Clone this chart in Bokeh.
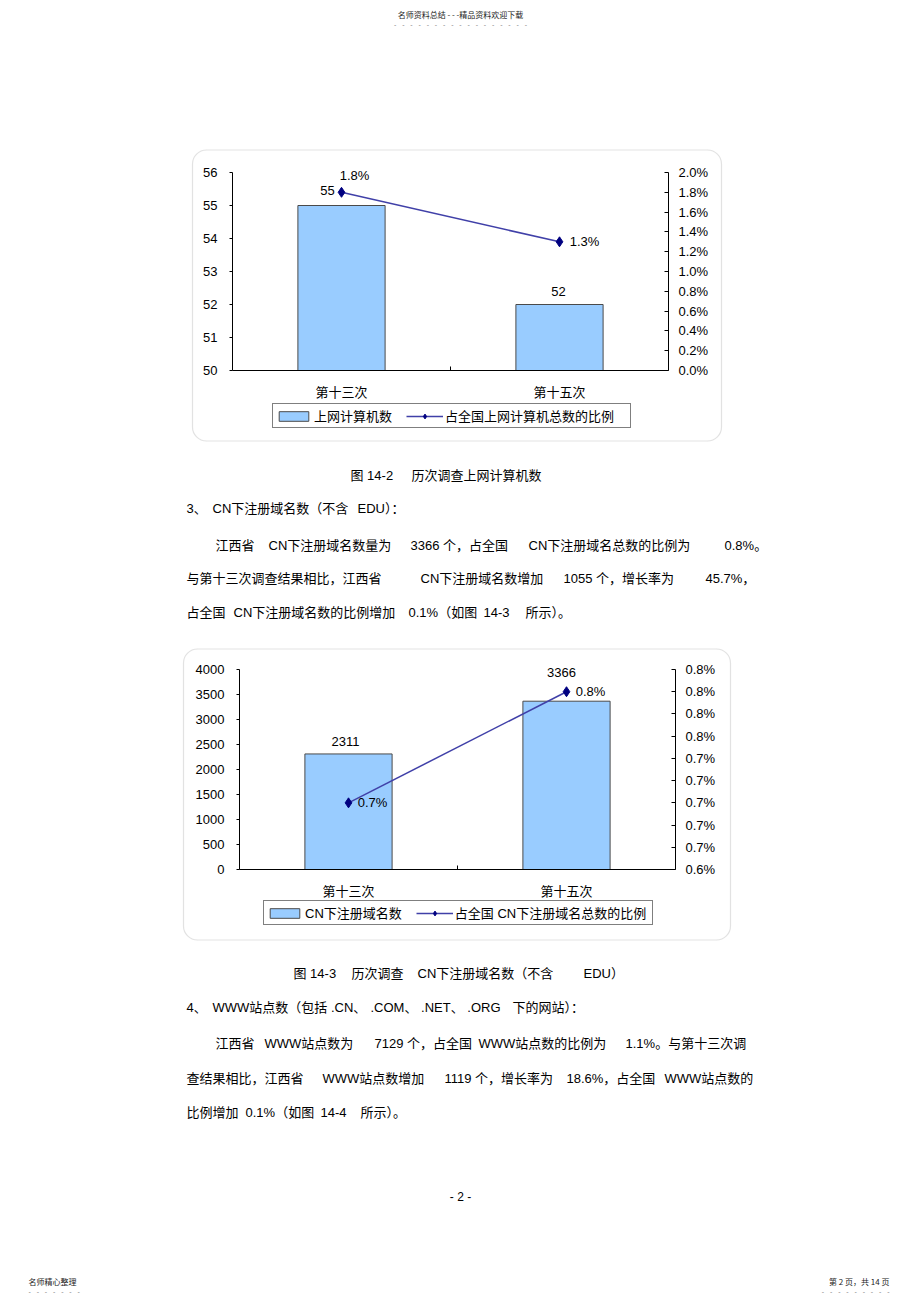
from bokeh.plotting import figure
from bokeh.models import (Range1d, LinearAxis, FixedTicker, PrintfTickFormatter,
                          Legend, LegendItem, ColumnDataSource, BoxAnnotation)
from bokeh.core.properties import value
from bokeh.embed import file_html
from bokeh.resources import INLINE

FONT = "Liberation Sans, Noto Sans CJK SC"
CJK = "Noto Sans CJK SC"

# ---------------- data: 图 14-2 ----------------
c1_categories = ["第十三次", "第十五次"]
c1_counts = [55, 52]
c1_share_pct = [1.8, 1.3]
c1_left_ticks = [50, 51, 52, 53, 54, 55, 56]
c1_right_ticks = [0.0, 0.2, 0.4, 0.6, 0.8, 1.0, 1.2, 1.4, 1.6, 1.8, 2.0]
c1_bar_name = "上网计算机数"
c1_line_name = "占全国上网计算机总数的比例"

# ---------------- data: 图 14-3 ----------------
c2_categories = ["第十三次", "第十五次"]
c2_counts = [2311, 3366]
c2_share_pct = [0.70, 0.80]
c2_left_ticks = [0, 500, 1000, 1500, 2000, 2500, 3000, 3500, 4000]
c2_right_ticks = [0.64, 0.66, 0.68, 0.70, 0.72, 0.74, 0.76, 0.78, 0.80, 0.82]
c2_bar_name = "CN下注册域名数"
c2_line_name = "占全国 CN下注册域名总数的比例"

W, H = 920, 1304

p = figure(width=W, height=H, x_range=Range1d(0, W), y_range=Range1d(H, 0),
           output_backend="svg", toolbar_location=None,
           x_axis_type=None, y_axis_type=None,
           min_border_left=0, min_border_right=0, min_border_top=0, min_border_bottom=0,
           outline_line_color=None, background_fill_color="white",
           border_fill_color="white")


def x_range_for(v_left, v_right, px_left, px_right):
    k = (v_right - v_left) / (px_right - px_left)
    start = v_left - px_left * k
    return Range1d(start, start + W * k)


def y_range_for(v_bot, v_top, py_bot, py_top):
    k = (v_top - v_bot) / (py_bot - py_top)
    start = v_bot - (H - py_bot) * k
    return Range1d(start, start + H * k)


def style_axis(ax):
    ax.axis_line_color = "black"
    ax.major_tick_line_color = "black"
    ax.minor_tick_line_color = None
    ax.major_label_text_font = FONT
    ax.major_label_text_font_size = "13px"
    ax.major_label_text_color = "black"


def chart(key, cats, counts, share, lticks, rticks, bar_name, line_name,
          frame, box, legend_pos, bar_off, pct_off, line_pad):
    fl, fr, ft, fb = frame
    n = len(cats)
    xr, yr, pr = key + "x", key + "y", key + "p"
    p.extra_x_ranges = {**p.extra_x_ranges, xr: x_range_for(0, n, fl, fr)}
    p.extra_y_ranges = {**p.extra_y_ranges,
                        yr: y_range_for(lticks[0], lticks[-1], fb, ft),
                        pr: y_range_for(rticks[0], rticks[-1], fb, ft)}
    xpos = [i + 0.5 for i in range(n)]
    src = ColumnDataSource(dict(
        x=xpos, cnt=counts, pct=share,
        cnt_txt=[str(v) for v in counts],
        pct_txt=[f"{v:.1f}%" for v in share],
        bdx=[o[0] for o in bar_off], bdy=[o[1] for o in bar_off],
        pdx=[o[0] for o in pct_off], pdy=[o[1] for o in pct_off]))

    frame_box = BoxAnnotation(left=box[0], right=box[1], top=box[2], bottom=box[3],
                              fill_color=None, fill_alpha=0,
                              line_color="#a0a0a0", line_width=1.2, border_radius=14,
                              level="underlay")
    p.add_layout(frame_box)

    bars = p.vbar(x="x", top="cnt", bottom=lticks[0], width=0.4, source=src,
                  x_range_name=xr, y_range_name=yr,
                  fill_color="#99CCFF", line_color="#4a4a4a", line_width=1)
    ln = p.line(x="x", y="pct", source=src, x_range_name=xr, y_range_name=pr,
                line_color="#4040a8", line_width=1.5)
    mk = p.scatter(x="x", y="pct", source=src, x_range_name=xr, y_range_name=pr,
                   marker="diamond", size=10, fill_color="#000080", line_color="#000080")
    p.text(x="x", y="cnt", text="cnt_txt", x_offset="bdx", y_offset="bdy", source=src,
           x_range_name=xr, y_range_name=yr,
           text_align="center", text_baseline="middle", text_font=value(FONT),
           text_font_size="13px", text_color="black")
    p.text(x="x", y="pct", text="pct_txt", x_offset="pdx", y_offset="pdy", source=src,
           x_range_name=xr, y_range_name=pr,
           text_align="center", text_baseline="middle", text_font=value(FONT),
           text_font_size="13px", text_color="black")

    # left value axis
    la = LinearAxis(x_range_name=xr, y_range_name=yr, fixed_location=0,
                    bounds=(lticks[0], lticks[-1]), ticker=FixedTicker(ticks=lticks),
                    formatter=PrintfTickFormatter(format="%d"))
    style_axis(la)
    la.major_tick_out = 3
    la.major_tick_in = 0
    la.major_label_standoff = 12
    p.add_layout(la, "left")

    # right percentage axis
    ra = LinearAxis(x_range_name=xr, y_range_name=pr, fixed_location=n,
                    bounds=(rticks[0], rticks[-1]), ticker=FixedTicker(ticks=rticks),
                    formatter=PrintfTickFormatter(format="%.1f%%"))
    style_axis(ra)
    ra.major_tick_in = 4
    ra.major_tick_out = 0
    ra.major_label_standoff = 10
    p.add_layout(ra, "right")

    # category axis
    ba = LinearAxis(x_range_name=xr, y_range_name=yr, fixed_location=lticks[0],
                    bounds=(0, n),
                    ticker=FixedTicker(ticks=xpos, minor_ticks=list(range(1, n))),
                    major_label_overrides={xv: c for xv, c in zip(xpos, cats)})
    style_axis(ba)
    ba.major_tick_line_color = None
    ba.minor_tick_line_color = "black"
    ba.minor_tick_in = 4
    ba.minor_tick_out = 0
    ba.major_label_standoff = 8
    p.add_layout(ba, "below")

    leg = Legend(items=[LegendItem(label=bar_name, renderers=[bars]),
                        LegendItem(label=line_name + line_pad, renderers=[ln, mk])],
                 orientation="horizontal", location=legend_pos,
                 border_line_color="black", border_line_width=1,
                 background_fill_color="white", background_fill_alpha=1,
                 label_text_font=FONT, label_text_font_size="13px",
                 label_text_color="black",
                 glyph_width=37, glyph_height=12, label_height=15,
                 label_standoff=2, spacing=14, padding=2, margin=0)
    p.add_layout(leg)


# frame = (left, right, top, bottom) in page pixels; legend pos = (left, H - bottom)
chart("c1", c1_categories, c1_counts, c1_share_pct, c1_left_ticks, c1_right_ticks,
      c1_bar_name, c1_line_name,
      frame=(232, 668, 172, 370), box=(192, 721, 149.5, 440.5),
      legend_pos=(272, H - 428),
      bar_off=[(-14, -15), (-1, -13)], pct_off=[(13, -17), (25, 0)],
      line_pad="    ")

chart("c2", c2_categories, c2_counts, c2_share_pct, c2_left_ticks, c2_right_ticks,
      c2_bar_name, c2_line_name,
      frame=(239, 675, 669, 869), box=(183, 730, 648.5, 939.5),
      legend_pos=(263, H - 925),
      bar_off=[(-3, -12), (-5, -29)], pct_off=[(24, 0), (24, 0)],
      line_pad=" ")

B = "black"
SEP = "\u00a0\u00a0\u00a0"
DOTS_HEAD = SEP.join(["-"] * 17)
DOTS_LEFT = SEP.join(["-"] * 7)
DOTS_RIGHT = SEP.join(["-"] * 9)
page_texts = [
    (460, 14, "名师资料总结 - - -精品资料欢迎下载", 8, "center", CJK, "#222222"),
    (460, 24, DOTS_HEAD, 7, "center", FONT, "#888888"),
    (350, 475, "图 14-2", 13, "left", FONT, B),
    (411, 475, "历次调查上网计算机数", 13, "left", FONT, B),
    (186, 508, "3、", 13, "left", FONT, B),
    (212, 508, "CN下注册域名数（不含", 13, "left", FONT, B),
    (357, 508, "EDU）：", 13, "left", FONT, B),
    (215, 545, "江西省", 13, "left", FONT, B),
    (268, 545, "CN下注册域名数量为", 13, "left", FONT, B),
    (410, 545, "3366 个，占全国", 13, "left", FONT, B),
    (528, 545, "CN下注册域名总数的比例为", 13, "left", FONT, B),
    (724, 545, "0.8%。", 13, "left", FONT, B),
    (186, 578, "与第十三次调查结果相比，江西省", 13, "left", FONT, B),
    (420, 578, "CN下注册域名数增加", 13, "left", FONT, B),
    (563, 578, "1055 个，增长率为", 13, "left", FONT, B),
    (705, 578, "45.7%，", 13, "left", FONT, B),
    (186, 612, "占全国", 13, "left", FONT, B),
    (233, 612, "CN下注册域名数的比例增加", 13, "left", FONT, B),
    (408, 612, "0.1%（如图", 13, "left", FONT, B),
    (483, 612, "14-3", 13, "left", FONT, B),
    (525, 612, "所示）。", 13, "left", FONT, B),
    (293, 973, "图 14-3", 13, "left", FONT, B),
    (351, 973, "历次调查", 13, "left", FONT, B),
    (417, 973, "CN下注册域名数（不含", 13, "left", FONT, B),
    (583, 973, "EDU）", 13, "left", FONT, B),
    (186, 1007, "4、", 13, "left", FONT, B),
    (212, 1007, "WWW站点数（包括 .CN、", 13, "left", FONT, B),
    (370, 1007, ".COM、 .NET、 .ORG", 13, "left", FONT, B),
    (512, 1007, "下的网站）：", 13, "left", FONT, B),
    (215, 1043, "江西省", 13, "left", FONT, B),
    (264, 1043, "WWW站点数为", 13, "left", FONT, B),
    (374, 1043, "7129 个，占全国", 13, "left", FONT, B),
    (478, 1043, "WWW站点数的比例为", 13, "left", FONT, B),
    (625, 1043, "1.1%。与第十三次调", 13, "left", FONT, B),
    (186, 1078, "查结果相比，江西省", 13, "left", FONT, B),
    (322, 1078, "WWW站点数增加", 13, "left", FONT, B),
    (444, 1078, "1119 个，增长率为", 13, "left", FONT, B),
    (566, 1078, "18.6%，占全国", 13, "left", FONT, B),
    (664, 1078, "WWW站点数的", 13, "left", FONT, B),
    (186, 1112, "比例增加", 13, "left", FONT, B),
    (245, 1112, "0.1%（如图", 13, "left", FONT, B),
    (320, 1112, "14-4", 13, "left", FONT, B),
    (360, 1112, "所示）。", 13, "left", FONT, B),
    (460, 1196, "- 2 -", 12, "center", FONT, B),
    (28, 1281, "名师精心整理", 8, "left", CJK, "#222222"),
    (28, 1291, DOTS_LEFT, 7, "left", FONT, "#888888"),
    (889, 1281, "第 2 页，共 14 页", 8, "right", CJK, "#222222"),
    (889, 1291, DOTS_RIGHT, 7, "right", FONT, "#888888"),
]

for (x, y, t, size, align, font, color) in page_texts:
    p.text(x=[x], y=[y], text=[t], text_align=align, text_baseline="middle",
           text_font=value(font), text_font_size=f"{size}px", text_color=color)

open("out.html", "w").write(file_html(p, INLINE))
